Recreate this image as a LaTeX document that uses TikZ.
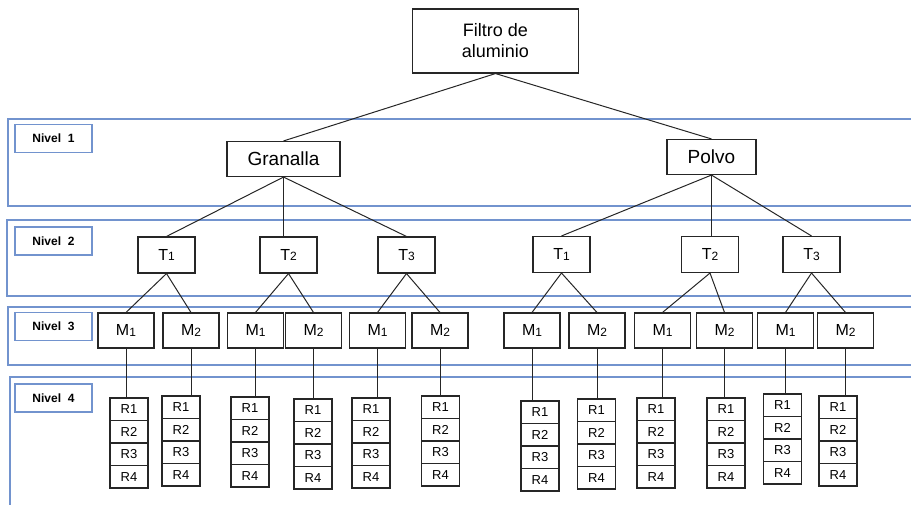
\documentclass[tikz,border=0pt]{standalone}
\usepackage{fontspec}
\setmainfont{Liberation Sans}
\usetikzlibrary{positioning}
\definecolor{bandblue}{RGB}{114,147,206}
\colorlet{boxink}{black!85}
\newcommand\sub[1]{{\fontsize{12}{12}\selectfont\raisebox{-0.6pt}{#1}}}
\newcommand\rstack[3]{
  % four replicate cells hanging under one sample
  \foreach \k in {1,...,4}
    \node[rep] (#1-r\k) at (#2,{#3+(\k-0.5)*22.5}) {R\k};
  \draw[link] (#1.south) -- (#1.south |- #1-r1.north);
}

\begin{document}
\begin{tikzpicture}[x=1pt, y=-1pt,
    box/.style={draw=boxink, line width=1.1pt, inner sep=0pt, fill=white},
    rootbox/.style={box, minimum width=166, minimum height=64, align=center,
                    font=\fontsize{18}{21}\selectfont},
    kind/.style={box, minimum height=35, font=\fontsize{19}{19}\selectfont},
    tnode/.style={box, minimum width=57, minimum height=36, font=\fontsize{16}{16}\selectfont},
    mnode/.style={box, minimum width=56, minimum height=35, font=\fontsize{16}{16}\selectfont},
    rep/.style={box, minimum width=38, minimum height=22.5, font=\fontsize{13}{13}\selectfont},
    band/.style={draw=bandblue, line width=1.1pt},
    lvltag/.style={draw=bandblue, line width=1.1pt, minimum width=77, minimum height=28,
                   font=\bfseries\fontsize{12}{12}\selectfont},
    link/.style={draw=boxink, line width=1pt},
  ]
  \useasboundingbox (0,0) rectangle (911,504);
  \clip (0,0) rectangle (911,504);

  % ------------------------------------------------------------------ level bands
  \draw[band] (8,119) rectangle (930,206);
  \draw[band] (7,220) rectangle (930,296);
  \draw[band] (8,307) rectangle (930,365);
  \draw[band] (10,377) rectangle (930,520);
  \foreach \y [count=\i] in {138.5, 241, 326.5, 398}
    \node[lvltag] (lv\i) at (53.5,\y) {Nivel\ \ \i};

  % ------------------------------------------------------------------ tree
  \node[rootbox] (root) at (495.5,41) {Filtro de\\aluminio};
  \node[kind, minimum width=113] (gran)  at (283.5,159) {Granalla};
  \node[kind, minimum width=89]  (polvo) at (711.5,157) {Polvo};
  \draw[link] (root.south) -- (gran.north);
  \draw[link] (root.south) -- (polvo.north);

  \foreach \x [count=\i] in {166.5, 288.5, 406.5}
    \node[tnode] (g-t\i) at (\x,255) {T\sub{\i}};
  \foreach \x [count=\i] in {561.5, 710, 811.5}
    \node[tnode] (p-t\i) at (\x,254.5) {T\sub{\i}};
  \draw[link] (gran.south)  -- (g-t1.north);
  \draw[link] (gran.south)  -- (gran.south |- g-t2.north);
  \draw[link] (gran.south)  -- (g-t3.north);
  \draw[link] (polvo.south) -- (p-t1.north);
  \draw[link] (polvo.south) -- (polvo.south |- p-t2.north);
  \draw[link] (polvo.south) -- (p-t3.north);

  % samples: parent / x of M1 / x of M2
  \foreach \t/\xa/\xb in {g-t1/126/191, g-t2/255.5/313.5, g-t3/377.5/440,
                          p-t1/532/597, p-t2/662.5/724.5, p-t3/785.5/845.5} {
    \node[mnode] (\t-m1) at (\xa,330.5) {M\sub{1}};
    \node[mnode] (\t-m2) at (\xb,330.5) {M\sub{2}};
    \draw[link] (\t.south) -- (\t-m1.north);
    \draw[link] (\t.south) -- (\t-m2.north);
  }

  % ------------------------------------------------------------------ replicates
  \rstack{g-t1-m1}{129}{398}
  \rstack{g-t1-m2}{181}{396}
  \rstack{g-t2-m1}{250}{397}
  \rstack{g-t2-m2}{313}{399}
  \rstack{g-t3-m1}{371}{398}
  \rstack{g-t3-m2}{440.5}{396}
  \rstack{p-t1-m1}{540}{401}
  \rstack{p-t1-m2}{596.5}{399}
  \rstack{p-t2-m1}{656}{398}
  \rstack{p-t2-m2}{726}{398}
  \rstack{p-t3-m1}{782.5}{394}
  \rstack{p-t3-m2}{838}{396}

\end{tikzpicture}
\end{document}
